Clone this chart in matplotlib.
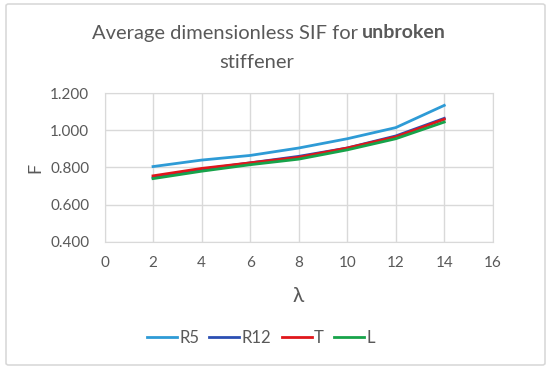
import matplotlib
matplotlib.use('Agg')
import matplotlib.pyplot as plt
from matplotlib.patches import FancyBboxPatch
from matplotlib.ticker import FuncFormatter

plt.rcParams['font.family'] = ['Lato', 'DejaVu Sans']

lam = [2, 4, 6, 8, 10, 12, 14]
r5 = [0.805, 0.840, 0.865, 0.905, 0.955, 1.015, 1.135]
r12 = [0.745, 0.790, 0.825, 0.860, 0.905, 0.970, 1.065]
t = [0.755, 0.795, 0.825, 0.855, 0.905, 0.965, 1.060]
l = [0.740, 0.780, 0.815, 0.845, 0.895, 0.955, 1.045]
labels = ['R5', 'R12', 'T', 'L']
colors = ['#2e9bd6', '#2b4fb3', '#e0161b', '#17a34a']

fig = plt.figure(figsize=(5.5, 3.7), dpi=100)
fig.patch.set_facecolor('white')

# chart frame
frame = FancyBboxPatch((6/550, 5/370), 539/550, 361/370, boxstyle='round,pad=0,rounding_size=0.005',
                       transform=fig.transFigure, fill=False, edgecolor='#d9d9d9', linewidth=1.2)
fig.patches.append(frame)

ax = fig.add_axes([0.190, 0.3468, 0.706, 0.401])
for y, lab, c in zip([r5, r12, t, l], labels, colors):
    ax.plot(lam, y, color=c, lw=2, label=lab)

ax.set_xlim(0, 16)
ax.set_ylim(0.4, 1.2)
ax.set_xticks(range(0, 17, 2))
ax.set_yticks([0.4, 0.6, 0.8, 1.0, 1.2])
ax.yaxis.set_major_formatter(FuncFormatter(lambda v, p: f'{v:.3f}'))
ax.grid(True, color='#d9d9d9', lw=1)
ax.set_axisbelow(True)
for s in ax.spines.values():
    s.set_color('#d9d9d9')
ax.tick_params(length=0, labelsize=11, colors='#595959')
ax.tick_params(axis='y', pad=11)
ax.tick_params(axis='x', pad=10)

ax.set_xlabel('λ', fontsize=15, color='#595959', labelpad=12)
ax.set_ylabel('F', fontsize=13, color='#595959', labelpad=5)

fig.text(358/550, 1 - 33/370, 'Average dimensionless SIF for', ha='right', va='center',
         fontsize=14.5, color='#595959')
fig.text(362/550, 1 - 33/370, 'unbroken', ha='left', va='center',
         fontsize=14, color='#595959', weight='bold')
fig.text(257/550, 1 - 62/370, 'stiffener', ha='center', va='center',
         fontsize=14.5, color='#595959')

fig.legend(loc='center', bbox_to_anchor=(261/550, 1 - 338/370), ncol=4, frameon=False,
           fontsize=12, handlelength=1.8, handletextpad=0.15, columnspacing=0.6,
           labelcolor='#595959')

fig.savefig('out.png', dpi=100)
